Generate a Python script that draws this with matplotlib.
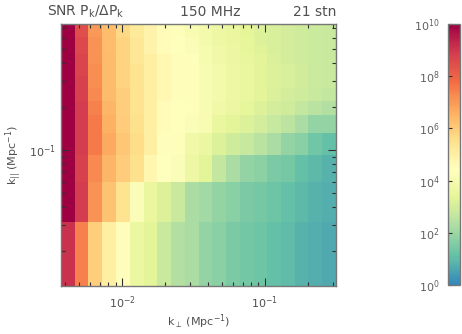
import numpy as np
import matplotlib
matplotlib.use("Agg")
import matplotlib.pyplot as plt
from matplotlib.colors import LinearSegmentedColormap, LogNorm
from matplotlib.ticker import LogLocator, NullFormatter

# ---- data ----
# k_perp bin edges (Mpc^-1), 20 bins
kperp_edges = [0.00374, 0.00467, 0.00582, 0.00728, 0.00908, 0.01132, 0.01413,
               0.01762, 0.02203, 0.02748, 0.03428, 0.04276, 0.05333, 0.06653,
               0.08318, 0.1038, 0.1294, 0.1614, 0.2014, 0.2512, 0.3141]
# k_par bin edges (Mpc^-1), 14 bins
kpar_edges = [0.0114, 0.0316, 0.0600, 0.0923, 0.1313, 0.1749, 0.2188, 0.2696,
              0.3264, 0.3954, 0.4642, 0.5337, 0.6105, 0.6813, 0.7499]

# log10(SNR) per k_par row (bottom to top), across k_perp bins
row00 = [9.1, 7.4, 5.9, 5.0, 4.5, 3.6, 3.3, 2.8, 2.4, 2.2, 1.9, 1.7, 1.5, 1.35, 1.25, 1.1, 1.0, 0.85, 0.75, 0.65]
row01 = [10.0, 8.9, 7.1, 6.2, 5.4, 4.2, 3.5, 3.2, 2.8, 2.2, 2.1, 1.9, 1.7, 1.5, 1.4, 1.25, 1.1, 0.95, 0.85, 0.75]
row02 = [10.0, 8.8, 7.3, 6.5, 6.0, 5.5, 4.8, 4.4, 4.2, 3.7, 3.3, 2.7, 2.2, 1.9, 1.75, 1.5, 1.4, 1.1, 0.95, 0.85]
row03 = [10.0, 8.9, 7.5, 6.7, 6.1, 5.6, 5.0, 4.5, 4.3, 3.8, 3.6, 3.2, 2.9, 2.75, 2.5, 2.2, 1.9, 1.7, 1.3, 1.1]
row04 = [10.0, 8.9, 7.5, 6.6, 6.0, 5.5, 5.0, 4.6, 4.4, 4.2, 4.1, 3.5, 3.3, 3.2, 3.0, 2.75, 2.55, 2.2, 1.9, 1.9]
row05 = [10.0, 8.9, 7.4, 6.5, 5.9, 5.4, 5.0, 4.6, 4.4, 4.3, 4.1, 3.8, 3.6, 3.4, 3.2, 3.0, 2.9, 2.7, 2.5, 2.4]
row06 = [10.0, 8.8, 7.3, 6.4, 5.9, 5.4, 5.0, 4.7, 4.5, 4.3, 4.1, 3.9, 3.7, 3.5, 3.3, 3.15, 3.0, 2.9, 2.8, 2.7]
row07 = [10.0, 8.8, 7.2, 6.4, 5.8, 5.4, 5.0, 4.7, 4.5, 4.3, 4.1, 3.9, 3.7, 3.5, 3.3, 3.2, 3.05, 2.95, 2.85, 2.8]
row08 = [10.0, 8.7, 7.2, 6.4, 5.8, 5.4, 5.0, 4.7, 4.5, 4.3, 4.1, 3.9, 3.7, 3.5, 3.3, 3.2, 3.05, 2.95, 2.85, 2.8]
row09 = [10.0, 8.7, 7.1, 6.4, 5.8, 5.3, 5.0, 4.7, 4.5, 4.3, 4.0, 3.8, 3.6, 3.45, 3.3, 3.15, 3.0, 2.9, 2.85, 2.8]
row10 = [10.0, 8.6, 7.1, 6.3, 5.8, 5.3, 4.9, 4.6, 4.4, 4.2, 4.0, 3.8, 3.6, 3.4, 3.25, 3.1, 3.0, 2.9, 2.85, 2.8]
row11 = [10.0, 8.6, 7.1, 6.3, 5.8, 5.3, 4.9, 4.6, 4.4, 4.2, 3.9, 3.7, 3.5, 3.4, 3.2, 3.1, 3.0, 2.9, 2.85, 2.8]
row12 = [10.0, 8.5, 7.0, 6.3, 5.7, 5.2, 4.9, 4.6, 4.3, 4.1, 3.9, 3.7, 3.5, 3.35, 3.2, 3.1, 3.0, 2.9, 2.85, 2.8]
row13 = [10.0, 8.5, 7.0, 6.3, 5.7, 5.2, 4.9, 4.6, 4.3, 4.1, 3.9, 3.7, 3.5, 3.35, 3.2, 3.1, 3.0, 2.9, 2.85, 2.8]

cbar_ticks = [1e0, 1e2, 1e4, 1e6, 1e8, 1e10]
cbar_labels = ["10$^{0}$", "10$^{2}$", "10$^{4}$", "10$^{6}$", "10$^{8}$", "10$^{10}$"]

title_left = "SNR P$_{\\rm k}$/$\\Delta$P$_{\\rm k}$"
title_mid = "150 MHz"
title_right = "21 stn"

# ---- plotting ----
rows = [row00, row01, row02, row03, row04, row05, row06, row07,
        row08, row09, row10, row11, row12, row13]
snr = 10.0 ** np.array(rows)

base = plt.get_cmap("Spectral_r")
cmap = LinearSegmentedColormap.from_list("spec_trunc", base(np.linspace(0.1, 1.0, 256)))
norm = LogNorm(vmin=1e0, vmax=1e10)

txt = "#505050"
frame = "#777777"
plt.rcParams["font.family"] = ["DejaVu Sans"]
plt.rcParams["mathtext.fontset"] = "dejavusans"

fig = plt.figure(figsize=(4.62, 3.34), dpi=100)
ax = fig.add_axes([61/462, 1-286/334, 275/462, 262/334])
mesh = ax.pcolormesh(kperp_edges, kpar_edges, snr, cmap=cmap, norm=norm, shading="flat")
ax.set_xscale("log")
ax.set_yscale("log")
ax.set_xlim(kperp_edges[0], kperp_edges[-1])
ax.set_ylim(kpar_edges[0], kpar_edges[-1])

for s in ax.spines.values():
    s.set_color(frame)
    s.set_linewidth(1.0)
ax.tick_params(which="both", direction="in", top=True, right=True, colors="#303030",
               labelcolor=txt, labelsize=8)
ax.tick_params(which="major", length=6, width=0.8)
ax.tick_params(which="minor", length=3, width=0.8)
ax.tick_params(axis="x", which="major", pad=6)
ax.xaxis.set_major_locator(LogLocator(base=10))
ax.xaxis.set_minor_locator(LogLocator(base=10, subs=np.arange(2, 10)))
ax.xaxis.set_minor_formatter(NullFormatter())
ax.yaxis.set_major_locator(LogLocator(base=10))
ax.yaxis.set_minor_locator(LogLocator(base=10, subs=np.arange(2, 10)))
ax.yaxis.set_minor_formatter(NullFormatter())

ax.set_xlabel("k$_\\perp$ (Mpc$^{-1}$)", color=txt, fontsize=8, labelpad=1)
ax.set_ylabel("k$_{||}$ (Mpc$^{-1}$)", color=txt, fontsize=8, labelpad=4)

fig.text(47/462, 1-12/334, title_left, color=txt, fontsize=10, va="center", ha="left")
fig.text(210/462, 1-12/334, title_mid, color=txt, fontsize=10, va="center", ha="center")
fig.text(336/462, 1-12/334, title_right, color=txt, fontsize=10, va="center", ha="right")

cax = fig.add_axes([448/462, 1-285/334, 12/462, 261/334])
cb = fig.colorbar(mesh, cax=cax)
cb.set_ticks(cbar_ticks)
cb.set_ticklabels(cbar_labels)
cb.ax.yaxis.set_ticks_position("left")
cb.ax.yaxis.set_label_position("left")
cb.ax.tick_params(which="major", direction="in", length=3, width=0.8, colors="#303030",
                  labelcolor="#606060", labelsize=8, pad=6)
cb.ax.minorticks_off()
cb.outline.set_edgecolor(frame)
cb.outline.set_linewidth(1.0)

fig.savefig("out.png", dpi=100)
